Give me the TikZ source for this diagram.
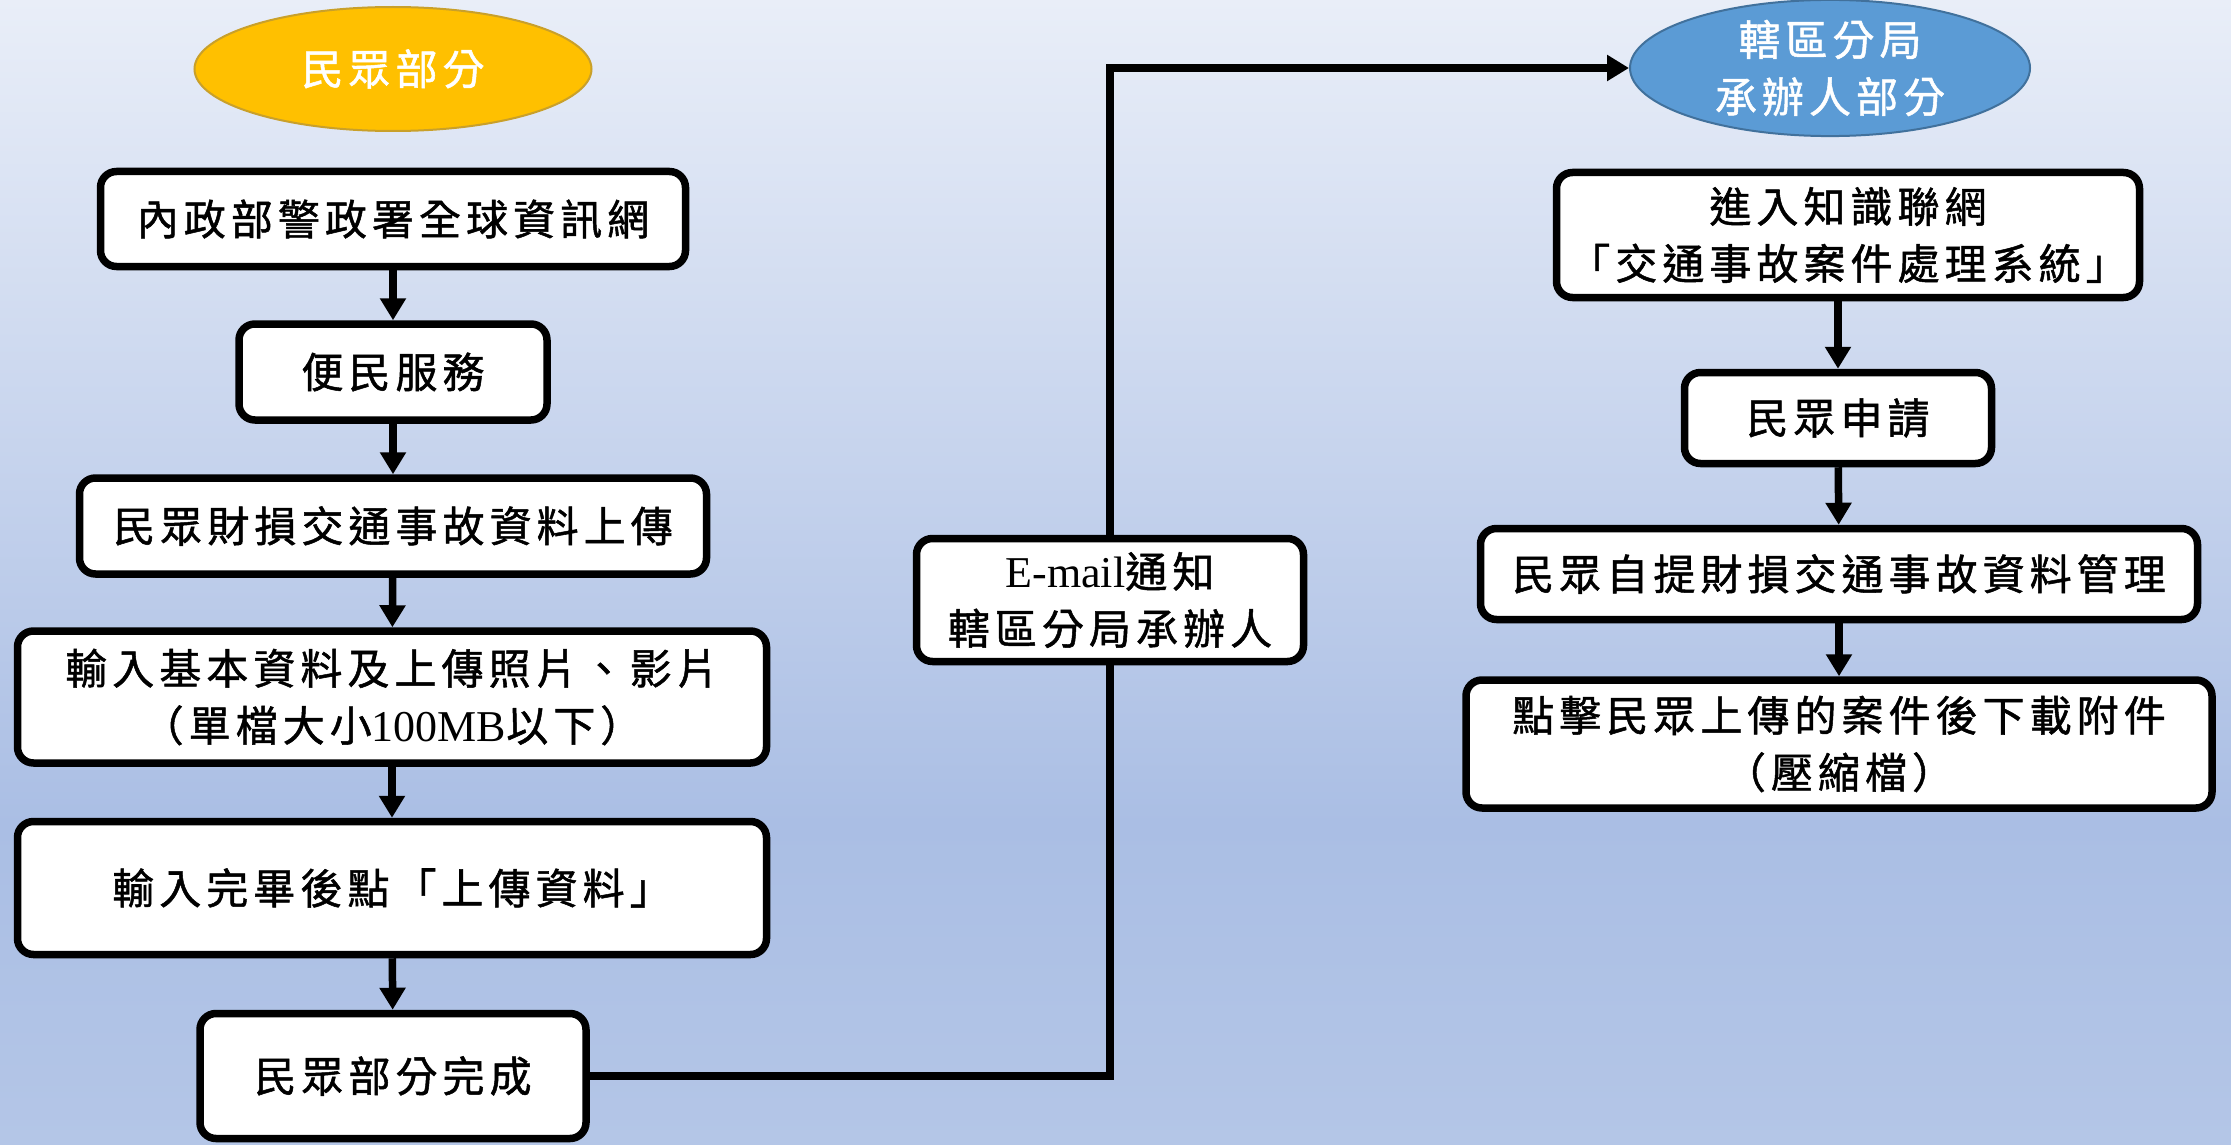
\documentclass[tikz,border=0pt]{standalone}
\usepackage{fontspec}
\setmainfont{Liberation Serif}
\newfontfamily\cjk[LetterSpace=12,FakeBold=1.2]{Noto Sans CJK TC}
\usetikzlibrary{arrows.meta,shapes.geometric}
\definecolor{bgtop}{HTML}{E9EEF8}
\definecolor{bgmid}{HTML}{AABEE4}
\definecolor{bgbot}{HTML}{B4C6E7}
\definecolor{yfill}{HTML}{FFC000}
\definecolor{ydraw}{HTML}{C9A02A}
\definecolor{bfill}{HTML}{5B9BD5}
\definecolor{bdraw}{HTML}{41719C}
\pgfdeclareverticalshading{bgshade}{100bp}{color(0bp)=(bgbot); color(25bp)=(bgbot); color(39bp)=(bgmid); color(75bp)=(bgtop); color(100bp)=(bgtop)}
\newcommand\lat[1]{{\rmfamily\fontsize{44}{57}\selectfont #1}}
\begin{document}
\begin{tikzpicture}[x=1pt,y=-1pt,
  box/.style={draw=black, line width=7.5pt, rounded corners=16pt, fill=white, align=center,
    inner sep=0pt, font={\cjk\fontsize{42}{57}\selectfont}},
  ell/.style={ellipse, line width=2pt, inner sep=0pt, align=center, text=white,
    font={\cjk\fontsize{42}{57}\selectfont}},
  conn/.style={line width=7.5pt},
  arr/.style={line width=7.5pt, -{Triangle[width=25pt,length=22pt]}}]
\shade[shading=bgshade] (0,0) rectangle (2231,1145);
\useasboundingbox (0,0) rectangle (2231,1145);

% left column
\node[ell, fill=yfill, draw=ydraw, minimum width=397pt, minimum height=124pt] (ey) at (393,69) {民眾部分};
\node[box, minimum width=585pt, minimum height=95pt] (b1) at (393,219) {內政部警政署全球資訊網};
\node[box, minimum width=308pt, minimum height=96pt] (b2) at (393,372) {便民服務};
\node[box, minimum width=627pt, minimum height=96pt] (b3) at (393,526) {民眾財損交通事故資料上傳};
\node[box, minimum width=749pt, minimum height=132pt] (b4) at (392,697) {輸入基本資料及上傳照片、影片\\（單檔大小\lat{100MB}以下）};
\node[box, minimum width=749pt, minimum height=133pt] (b5) at (392,888) {輸入完畢後點「上傳資料」};
\node[box, minimum width=386pt, minimum height=125pt] (b6) at (393,1076) {民眾部分完成};

% middle
\node[box, minimum width=387pt, minimum height=123pt] (em) at (1110,600) {\lat{E-mail}通知\\轄區分局承辦人};

% right column
\node[ell, fill=bfill, draw=bdraw, minimum width=400pt, minimum height=126pt] (eb) at (1830,68) {轄區分局\\承辦人部分};
\node[box, minimum width=583pt, minimum height=125pt] (r1) at (1848,235) {進入知識聯網\\「交通事故案件處理系統」};
\node[box, minimum width=307pt, minimum height=91pt] (r2) at (1838,418) {民眾申請};
\node[box, minimum width=717pt, minimum height=91pt] (r3) at (1839,574) {民眾自提財損交通事故資料管理};
\node[box, minimum width=746pt, minimum height=128pt] (r4) at (1839,744) {點擊民眾上傳的案件後下載附件\\（壓縮檔）};

% connectors
\draw[arr] (b1) -- (b2);
\draw[arr] (b2) -- (b3);
\draw[arr] (b3) -- (b4);
\draw[arr] (b4) -- (b5);
\draw[arr] (b5) -- (b6);
\draw[conn] (b6.east) -| (em.south);
\draw[arr] (em.north) |- (eb.west);
\draw[arr] (r1.south -| r2.north) -- (r2.north);
\draw[arr] (r2) -- (r3);
\draw[arr] (r3) -- (r4);
\end{tikzpicture}
\end{document}
